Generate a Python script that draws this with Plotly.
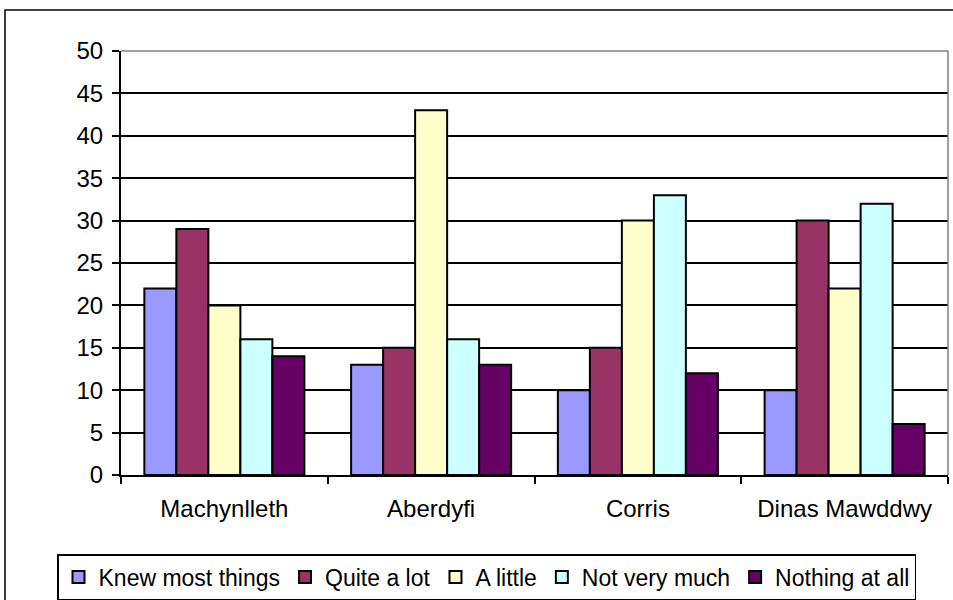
import plotly.graph_objects as go

categories = ["Machynlleth", "Aberdyfi", "Corris", "Dinas Mawddwy"]
series_names = ["Knew most things", "Quite a lot", "A little", "Not very much", "Nothing at all"]
knew_most = [22, 13, 10, 10]
quite_a_lot = [29, 15, 15, 30]
a_little = [20, 43, 30, 22]
not_very_much = [16, 16, 33, 32]
nothing_at_all = [14, 13, 12, 6]
y_ticks = [0, 5, 10, 15, 20, 25, 30, 35, 40, 45, 50]

values = [knew_most, quite_a_lot, a_little, not_very_much, nothing_at_all]
colors = ["#9999FF", "#993366", "#FFFFCC", "#CCFFFF", "#660066"]

fig = go.Figure()
for name, vals, col in zip(series_names, values, colors):
    fig.add_trace(go.Bar(
        x=categories, y=vals, name=name,
        marker=dict(color=col, line=dict(color="black", width=2)),
    ))

W, H = 953, 600
L, R, T, B = 121, 5, 51, 125
pw, ph = W - L - R, H - T - B

fig.update_layout(
    width=W, height=H,
    margin=dict(l=L, r=R, t=T, b=B, autoexpand=False),
    paper_bgcolor="white", plot_bgcolor="white",
    barmode="group", bargap=0.226, bargroupgap=0,
    font=dict(family="Liberation Sans, Arial", size=24, color="black"),
    showlegend=True,
    legend=dict(
        orientation="h",
        x=(57 - L) / pw, xanchor="left",
        y=(475 - 554) / ph, yanchor="top",
        bordercolor="black", borderwidth=1.5,
        font=dict(size=23),
        itemwidth=30, tracegroupgap=0,
        bgcolor="white",
    ),
    xaxis=dict(
        showline=True, linecolor="black", linewidth=2,
        ticks="outside", ticklen=7, tickcolor="black", tickwidth=1.5,
        tickson="boundaries", showgrid=False,
        tickfont=dict(size=24),
        ticklabelstandoff=11,
    ),
    yaxis=dict(
        range=[0, 50], tickvals=y_ticks,
        showline=True, linecolor="black", linewidth=2,
        ticks="outside", ticklen=7, tickcolor="black", tickwidth=1.5,
        showgrid=True, gridcolor="black", gridwidth=1.5,
        zeroline=False,
        tickfont=dict(size=24),
        ticklabelstandoff=4,
    ),
    shapes=[
        dict(
            type="rect", xref="paper", yref="paper",
            x0=(5 - L) / pw, x1=(W + 5 - L) / pw,
            y0=(475 - (H + 5)) / ph, y1=(475 - 10) / ph,
            line=dict(color="black", width=1.5), fillcolor="rgba(0,0,0,0)",
            layer="below",
        ),
        dict(type="line", xref="paper", yref="paper", x0=0, x1=1, y0=1, y1=1,
             line=dict(color="#808080", width=1.5), layer="above"),
        dict(type="line", xref="paper", yref="paper", x0=1, x1=1, y0=0, y1=1,
             line=dict(color="#808080", width=1.5), layer="above"),
    ],
)

fig.write_html(
    "out.html",
    config={"displayModeBar": False},
    post_script="document.body.style.margin='0';document.body.style.overflow='hidden';",
)
